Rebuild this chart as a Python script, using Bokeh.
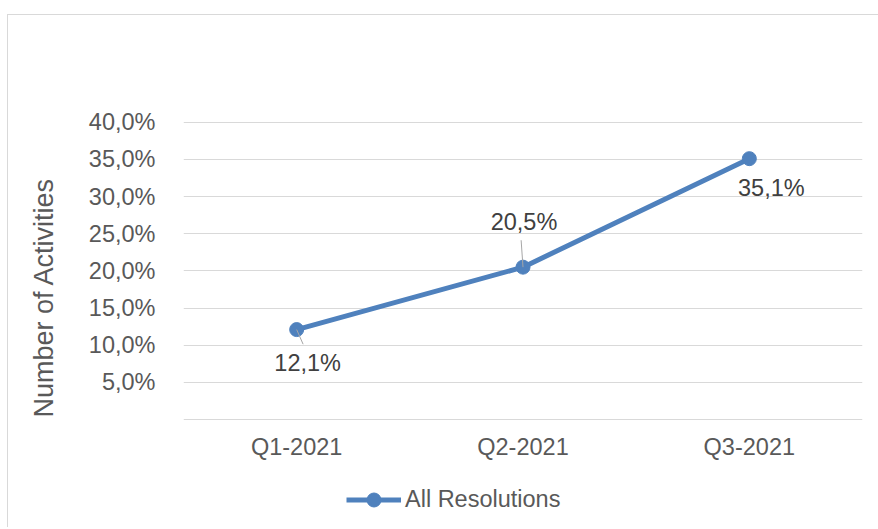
import math
from bokeh.plotting import figure
from bokeh.models import (FactorRange, Range1d, FixedTicker, Legend, LegendItem,
                          Title, ColumnDataSource)
from bokeh.core.properties import value
from bokeh.embed import file_html
from bokeh.resources import INLINE

# ---- data ----
categories = ["Q1-2021", "Q2-2021", "Q3-2021"]
values = [12.1, 20.5, 35.1]
series_name = "All Resolutions"
y_ticks = [5, 10, 15, 20, 25, 30, 35, 40]
y_title = "Number of Activities"

def pct(v):
    return f"{v:.1f}".replace(".", ",") + "%"

FONT = "Liberation Sans"
BLUE = "#4f81bd"
GRID = "#d9d9d9"
TXT = "#595959"

p = figure(width=878, height=527,
           x_range=FactorRange(factors=categories, range_padding=0),
           y_range=Range1d(-13.86, 40.1), output_backend="svg", toolbar_location=None,
           min_border_left=182, min_border_right=16, min_border_top=121, min_border_bottom=5)
# chart-area border (left and top edges) painted behind the transparent canvas
p.styles = {"background": (
    "linear-gradient(#d9d9d9,#d9d9d9) 7px 14px / 1px calc(100% - 14px) no-repeat, "
    "linear-gradient(#d9d9d9,#d9d9d9) 7px 14px / calc(100% - 7px) 1px no-repeat, white")}
p.outline_line_color = None
p.background_fill_color = "white"
p.border_fill_alpha = 0

# axes
p.yaxis.ticker = FixedTicker(ticks=y_ticks)
p.yaxis.major_label_overrides = {t: pct(t) for t in y_ticks}
p.yaxis.axis_line_color = None
p.yaxis.major_tick_line_color = None
p.yaxis.minor_tick_line_color = None
p.yaxis.major_tick_out = 0
p.yaxis.major_tick_in = 0
p.yaxis.minor_tick_out = 0
p.yaxis.major_label_standoff = 28
p.yaxis.major_label_text_font = FONT
p.yaxis.major_label_text_font_size = "23.5px"
p.yaxis.major_label_text_color = TXT

p.xaxis.fixed_location = 0
p.xaxis.axis_line_color = GRID
p.xaxis.axis_line_width = 1
p.xaxis.major_tick_line_color = None
p.xaxis.minor_tick_line_color = None
p.xaxis.major_tick_out = 0
p.xaxis.major_tick_in = 0
p.xaxis.major_label_standoff = 14
p.xaxis.major_label_text_font = FONT
p.xaxis.major_label_text_font_size = "23.5px"
p.xaxis.major_label_text_color = TXT

p.xgrid.grid_line_color = None
p.ygrid.grid_line_color = GRID
p.ygrid.grid_line_width = 1

src = ColumnDataSource(dict(x=categories, y=values, lab=[pct(v) for v in values]))

line_r = p.line("x", "y", source=src, line_color=BLUE, line_width=5)
pts_r = p.scatter("x", "y", source=src, size=14, fill_color=BLUE, line_color=BLUE)

# leader lines (Q1, Q2 only) as screen-length rays from the points
lead_idx = [0, 1]
lead_len = [16, 27]
lead_ang = [-1.156, 1.64]
lead_src = ColumnDataSource(dict(x=[categories[i] for i in lead_idx],
                                 y=[values[i] for i in lead_idx],
                                 length=lead_len, angle=lead_ang))
p.ray("x", "y", length="length", angle="angle", length_units="screen",
      source=lead_src, line_color="#a6a6a6", line_width=1)

# data labels
lab_dx = [11, 1, 22]
lab_dy = [33, -45.5, 29.6]
src.data["dx"] = lab_dx
src.data["dy"] = lab_dy
p.text("x", "y", text="lab", source=src, x_offset="dx", y_offset="dy",
       text_align="center", text_baseline="middle", text_font=value(FONT),
       text_font_size="23.5px", text_color="#404040")

# y axis title
p.add_layout(Title(text=y_title, align="left", offset=105, standoff=53,
                   text_font=FONT, text_font_size="27px", text_font_style="normal",
                   text_color=TXT), "left")

# legend (inside the extended frame, below the axis)
legend = Legend(items=[LegendItem(label=series_name, renderers=[line_r, pts_r])],
                location=(163, 5), orientation="horizontal",
                glyph_width=55, glyph_height=35, label_standoff=4,
                padding=0, margin=0, spacing=0,
                border_line_color=None, background_fill_alpha=0,
                label_text_font=FONT, label_text_font_size="23.5px", label_text_color=TXT)
p.add_layout(legend, "center")

open("out.html", "w").write(file_html(p, INLINE))
